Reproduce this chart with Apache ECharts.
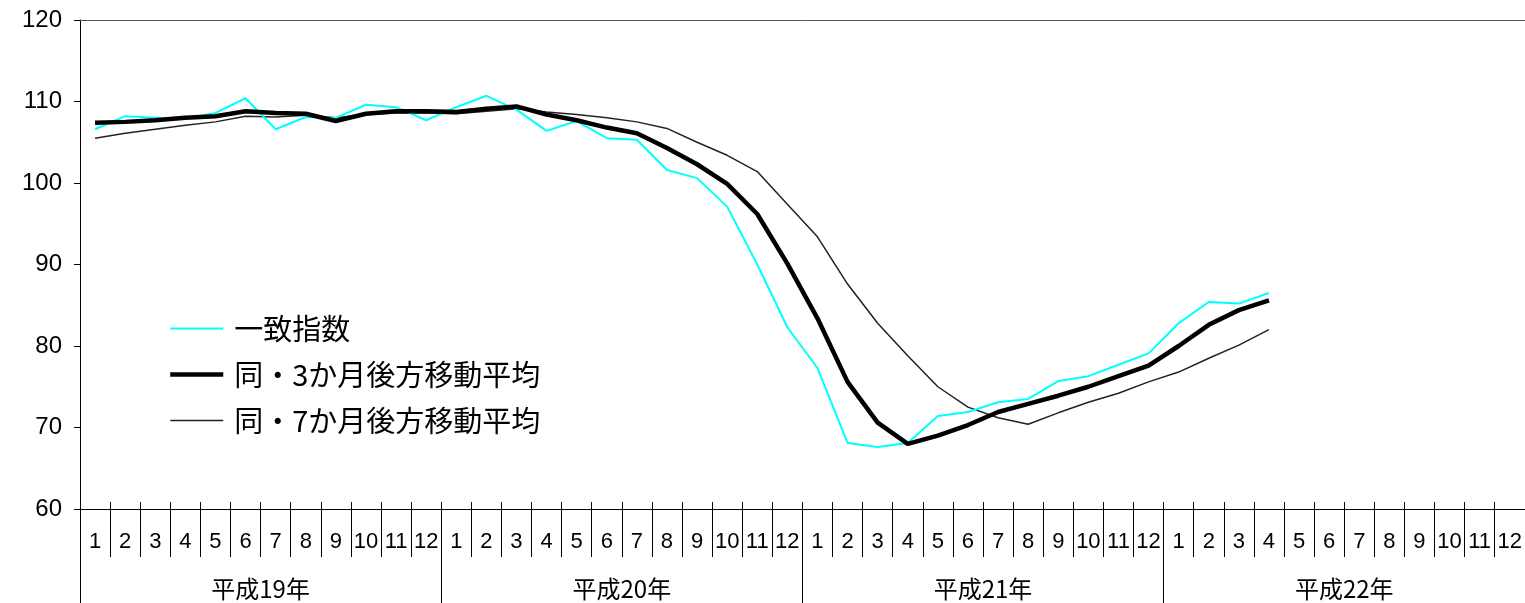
<!DOCTYPE html>
<html>
<head>
<meta charset="utf-8">
<script src="https://cdn.jsdelivr.net/npm/echarts@6/dist/echarts.min.js"></script>
<style>
  html, body { margin: 0; padding: 0; background: #fff; }
  #chart { width: 1525px; height: 603px; }
</style>
</head>
<body>
<div id="chart"></div>
<script>
// Month labels (平成19年1月 〜 平成22年12月) and year groups
const monthLabels = ['1','2','3','4','5','6','7','8','9','10','11','12',
                     '1','2','3','4','5','6','7','8','9','10','11','12',
                     '1','2','3','4','5','6','7','8','9','10','11','12',
                     '1','2','3','4','5','6','7','8','9','10','11','12'];
const yearLabels = ['平成19年', '平成20年', '平成21年', '平成22年'];

// 一致指数 (平成19年1月 〜 平成22年4月)
const coincident = [
  106.6, 108.2, 108.0, 107.9, 108.6, 110.4, 106.6, 108.1, 108.0, 109.6, 109.3, 107.7,
  109.3, 110.7, 109.0, 106.4, 107.6, 105.5, 105.3, 101.6, 100.6, 97.1, 90.0, 82.3,
  77.3, 68.1, 67.6, 68.1, 71.4, 71.9, 73.1, 73.5, 75.7, 76.3, 77.7, 79.1,
  82.8, 85.4, 85.2, 86.5
];
// 同・3か月後方移動平均
const ma3 = [
  107.4, 107.5, 107.7, 108.0, 108.2, 108.8, 108.6, 108.5, 107.6, 108.5, 108.8, 108.8,
  108.7, 109.1, 109.4, 108.4, 107.7, 106.8, 106.1, 104.3, 102.3, 99.9, 96.2, 90.1,
  83.4, 75.6, 70.6, 68.0, 69.0, 70.3, 71.9, 72.9, 73.9, 75.0, 76.3, 77.6,
  80.0, 82.6, 84.4, 85.6
];
// 同・7か月後方移動平均
const ma7 = [
  105.5, 106.1, 106.6, 107.1, 107.5, 108.2, 108.1, 108.3, 108.0, 108.4, 108.6, 108.6,
  108.5, 108.8, 109.1, 108.7, 108.4, 108.0, 107.5, 106.7, 105.0, 103.4, 101.4, 97.4,
  93.4, 87.6, 82.8, 78.8, 75.0, 72.5, 71.2, 70.4, 71.8, 73.1, 74.2, 75.6,
  76.8, 78.5, 80.1, 82.0
];

const seriesNames = ['一致指数', '同・3か月後方移動平均', '同・7か月後方移動平均'];
const seriesColors = ['#00FFFF', '#000000', '#222222'];
const seriesWidths = [2, 4.5, 1.5];

const numFont = '"Liberation Sans", Arial, sans-serif';
const cjkFont = '"Noto Sans CJK JP", "Noto Sans", sans-serif';

const chart = echarts.init(document.getElementById('chart'), null, { renderer: 'canvas' });

chart.setOption({
  animation: false,
  backgroundColor: '#ffffff',
  grid: { left: 80, top: 20, right: 0, bottom: 94, containLabel: false },
  legend: {
    orient: 'vertical',
    left: 163,
    top: 309,
    itemWidth: 53,
    itemHeight: 30,
    itemGap: 17,
    // line-only legend keys: hide the marker drawn over the line
    itemStyle: { opacity: 0 },
    textStyle: { fontFamily: cjkFont, fontSize: 29, color: '#000', padding: [0, 0, 0, 6] },
    data: seriesNames.map((name, i) => ({
      name: name,
      lineStyle: { color: seriesColors[i], width: seriesWidths[i] }
    }))
  },
  xAxis: [
    {
      // month axis with long ticks below the baseline
      type: 'category',
      data: monthLabels,
      boundaryGap: true,
      position: 'bottom',
      axisLine: { show: true, lineStyle: { color: '#000', width: 1 } },
      axisTick: { show: true, interval: 0, length: 48, lineStyle: { color: '#000', width: 1 } },
      axisLabel: { interval: 0, margin: 22, fontFamily: numFont, fontSize: 22, color: '#000' },
      splitLine: { show: false }
    },
    {
      // year groups underneath the months
      type: 'category',
      data: yearLabels,
      boundaryGap: true,
      position: 'bottom',
      axisLine: { show: false },
      axisTick: { show: true, interval: 0, length: 94, lineStyle: { color: '#000', width: 1 } },
      axisLabel: { interval: 0, margin: 68, fontFamily: cjkFont, fontSize: 24, color: '#000' },
      splitLine: { show: false }
    },
    {
      // short tick stubs above the baseline
      type: 'category',
      data: monthLabels,
      boundaryGap: true,
      position: 'bottom',
      axisLine: { show: false },
      axisTick: { show: true, inside: true, interval: 0, length: 7, lineStyle: { color: '#000', width: 1 } },
      axisLabel: { show: false },
      splitLine: { show: false }
    },
    {
      // top frame line of the plot area
      type: 'category',
      data: monthLabels,
      position: 'top',
      axisLine: { show: true, lineStyle: { color: '#555', width: 1 } },
      axisTick: { show: false },
      axisLabel: { show: false },
      splitLine: { show: false }
    }
  ],
  yAxis: {
    type: 'value',
    min: 60,
    max: 120,
    interval: 10,
    axisLine: { show: true, lineStyle: { color: '#000', width: 1 } },
    axisTick: { show: true, length: 6, lineStyle: { color: '#000', width: 1 } },
    axisLabel: { margin: 18, fontFamily: numFont, fontSize: 24, color: '#000' },
    splitLine: { show: false }
  },
  series: [coincident, ma3, ma7].map((values, i) => ({
    name: seriesNames[i],
    type: 'line',
    data: values,
    showSymbol: false,
    symbol: 'none',
    lineStyle: { color: seriesColors[i], width: seriesWidths[i] },
    itemStyle: { color: seriesColors[i] },
    z: [3, 4, 2][i]
  }))
});
</script>
</body>
</html>
